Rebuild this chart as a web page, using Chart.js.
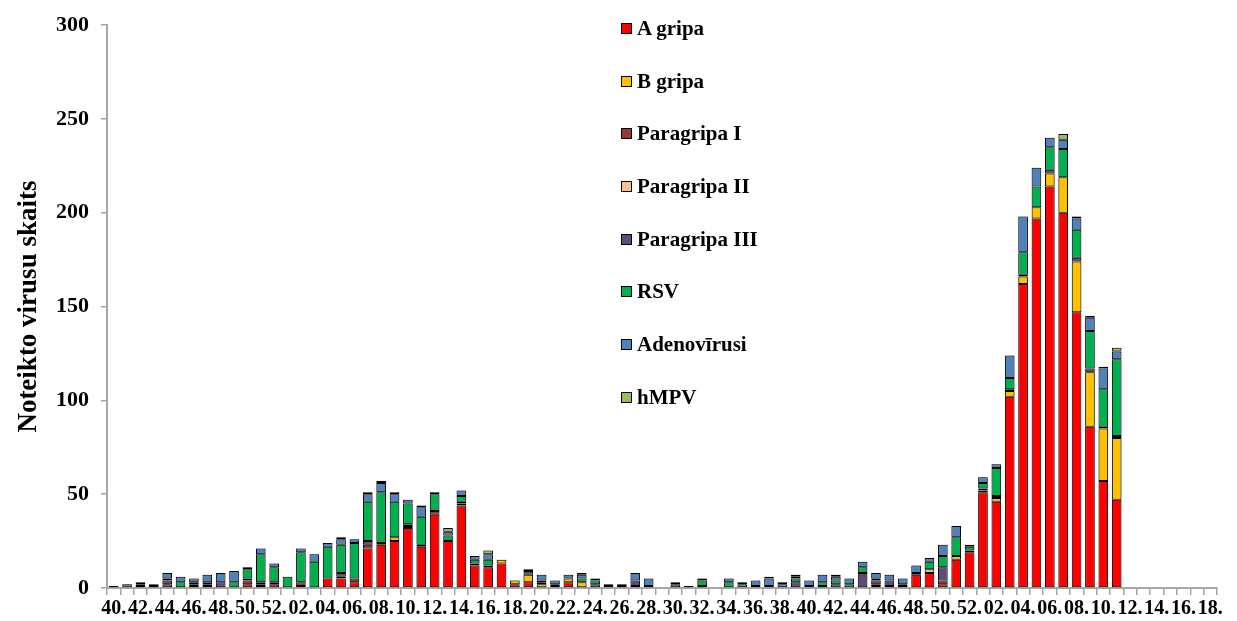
<!DOCTYPE html>
<html><head><meta charset="utf-8">
<script src="https://cdn.jsdelivr.net/npm/chart.js@4.4.0/dist/chart.umd.min.js"></script>
<style>
html,body{margin:0;padding:0;background:#fff;}
#wrap{position:relative;width:1237px;height:621px;overflow:hidden;}
#legend{position:absolute;left:621px;top:16px;font-family:"Liberation Serif","Times New Roman",serif;font-weight:bold;font-size:21px;color:#000;}
.li{height:52.7px;display:flex;align-items:flex-start;white-space:nowrap;}
.sw{width:9px;height:9px;border:1px solid #000;margin-right:5px;margin-top:7px;flex:none;}
</style></head>
<body><div id="wrap"><canvas id="c" width="1237" height="621"></canvas><div id="legend"></div></div>
<script>
const weeks = ["40.","41.","42.","43.","44.","45.","46.","47.","48.","49.","50.","51.","52.",
"01.","02.","03.","04.","05.","06.","07.","08.","09.","10.","11.","12.","13.","14.","15.","16.","17.","18.","19.","20.",
"21.","22.","23.","24.","25.","26.","27.","28.","29.","30.","31.","32.","33.","34.","35.","36.","37.","38.","39.","40.",
"41.","42.","43.","44.","45.","46.","47.","48.","49.","50.","51.","52.",
"01.","02.","03.","04.","05.","06.","07.","08.","09.","10.","11.","12.","13.","14.","15.","16.","17.","18."];

const aGripa =      [0,0,0,0,0,0,0,0,0,0,2,1,2, 0,1,0,5,5,3,21,23,25,32,22,39,25,44,12,11,13,2,3,0,0,3,0,0,0,0,0,0,0,0,0,1,0,0,0,0,0,0,0,0,1,0,0,0,0,1,0,7,8,2,15,19, 51,46,102,162,197,214,200,147,86,57,47,0,0,0,0,0,0,0];
const bGripa =      [0,0,0,0,0,0,0,0,0,0,0,0,0, 0,0,0,0,1,0,0,1,2,1,0,0,0,1,0,0,2,2,4,2,0,2,3,0,0,0,0,0,0,0,0,0,0,0,0,0,0,0,0,0,0,0,0,0,0,0,1,0,0,0,2,1, 1,2,3,4,6,7,19,27,29,28,33,0,0,0,0,0,0,0];
const paragripaI =  [1,0,1,0,2,0,1,1,0,0,2,1,1, 0,2,0,0,0,2,2,0,0,1,1,2,0,1,1,1,0,0,0,1,1,0,0,0,0,0,1,1,0,0,0,0,0,0,0,0,0,0,0,0,0,0,0,0,1,0,0,0,0,2,0,0, 1,1,1,1,0,0,0,0,0,1,0,0,0,0,0,0,0,0];
const paragripaII = [0,0,0,0,0,0,0,0,0,0,0,0,0, 0,0,0,0,0,0,0,0,0,0,0,0,0,0,0,0,0,0,0,0,0,0,0,0,0,0,0,0,0,0,0,0,0,0,0,1,1,0,0,0,0,0,0,0,1,0,0,0,2,0,0,0, 0,0,0,0,0,0,0,0,0,0,0,0,0,0,0,0,0,0];
const paragripaIII= [0,0,0,1,2,0,1,1,3,0,1,1,0, 0,0,0,0,2,0,2,0,0,0,0,0,0,0,0,0,0,0,2,1,0,0,0,2,1,1,3,0,0,2,0,0,0,0,0,0,0,0,3,1,0,2,0,8,2,3,0,0,0,7,0,0, 0,0,0,0,0,2,0,2,2,0,1,0,0,0,0,0,0,0];
const rsv =         [0,0,1,0,1,3,1,1,0,3,5,15,8, 6,16,14,17,15,19,21,27,19,11,15,9,3,3,2,3,0,0,1,0,1,0,2,2,1,0,0,0,0,1,0,3,0,3,2,0,0,0,2,0,2,2,2,3,1,0,1,1,4,6,10,2, 3,15,6,12,11,12,15,15,20,20,41,0,0,0,0,0,0,0];
const adeno =       [0,2,1,1,3,3,2,4,5,6,1,3,2, 0,2,4,2,3,2,4,5,4,2,5,0,2,3,2,3,0,0,0,3,2,2,2,0,0,1,4,4,0,0,1,1,0,2,1,3,4,2,1,3,4,2,3,3,3,3,3,4,2,6,6,1, 3,2,12,19,10,5,5,6,7,11,4,0,0,0,0,0,0,0];
const hmpv =        [0,0,0,0,0,0,0,0,0,0,0,0,0, 0,0,0,0,1,0,1,1,1,0,1,1,2,0,0,2,0,0,0,0,0,0,1,1,0,0,0,0,0,0,0,0,0,0,0,0,1,1,1,0,0,1,0,0,0,0,0,0,0,0,0,0, 0,0,0,0,0,0,3,1,1,1,2,0,0,0,0,0,0,0];

const seriesNames = ["A gripa","B gripa","Paragripa I","Paragripa II","Paragripa III","RSV","Adenovīrusi","hMPV"];
const seriesData = [aGripa,bGripa,paragripaI,paragripaII,paragripaIII,rsv,adeno,hmpv];
const seriesColors = ["#FF0000","#FFC000","#953735","#FAC090","#604A7B","#00B050","#4F81BD","#9BBB59"];
const yTicks = [0,50,100,150,200,250,300];

const serif = "'Liberation Serif','Times New Roman',serif";
const datasets = seriesNames.map((n,i)=>({
  label:n, data:seriesData[i].map(v=>v===0?null:v), backgroundColor:seriesColors[i],
  borderColor:'#000', borderWidth:1, borderSkipped:false,
  barPercentage:0.72, categoryPercentage:1
}));

const lg = document.getElementById('legend');
seriesNames.forEach((n,i)=>{
  const d=document.createElement('div'); d.className='li';
  const s=document.createElement('span'); s.className='sw'; s.style.background=seriesColors[i];
  const t=document.createElement('span'); t.textContent=n;
  d.appendChild(s); d.appendChild(t); lg.appendChild(d);
});

const shadow = {
  id:'shadow',
  beforeDatasetsDraw(chart){const c=chart.ctx;c.save();c.shadowColor='rgba(0,0,0,0.35)';c.shadowBlur=3;c.shadowOffsetX=0;c.shadowOffsetY=0;},
  afterDatasetsDraw(chart){chart.ctx.restore();}
};

new Chart(document.getElementById('c'),{
  type:'bar',
  data:{labels:weeks,datasets},
  plugins:[shadow],
  options:{
    responsive:false, animation:false, devicePixelRatio:1,
    layout:{padding:{top:21,right:20,left:0,bottom:0}},
    plugins:{legend:{display:false},tooltip:{enabled:false}},
    scales:{
      x:{stacked:true,
        grid:{display:true,drawOnChartArea:false,offset:true,color:'#a6a6a6',tickLength:7,lineWidth:1.5},
        border:{color:'#a6a6a6',width:2},
        ticks:{autoSkip:false,maxRotation:0,minRotation:0,padding:2,color:'#000',
          font:{family:serif,weight:'bold',size:20},
          callback:(v,i)=> i%2===0 ? weeks[i] : ''},
        afterFit:(s)=>{s.height=33;}
      },
      y:{stacked:true,min:0,max:300,
        afterBuildTicks:(s)=>{s.ticks=yTicks.map(v=>({value:v}));},
        grid:{display:true,drawOnChartArea:false,color:'#a6a6a6',tickLength:6,lineWidth:1.5},
        border:{color:'#a6a6a6',width:2},
        ticks:{color:'#000',padding:12,font:{family:serif,weight:'bold',size:22}},
        title:{display:true,text:'Noteikto virusu skaits',color:'#000',
          font:{family:serif,weight:'bold',size:27},padding:{top:13,bottom:0}},
        afterFit:(s)=>{s.width=107;}
      }
    }
  }
});
</script>
</body></html>
